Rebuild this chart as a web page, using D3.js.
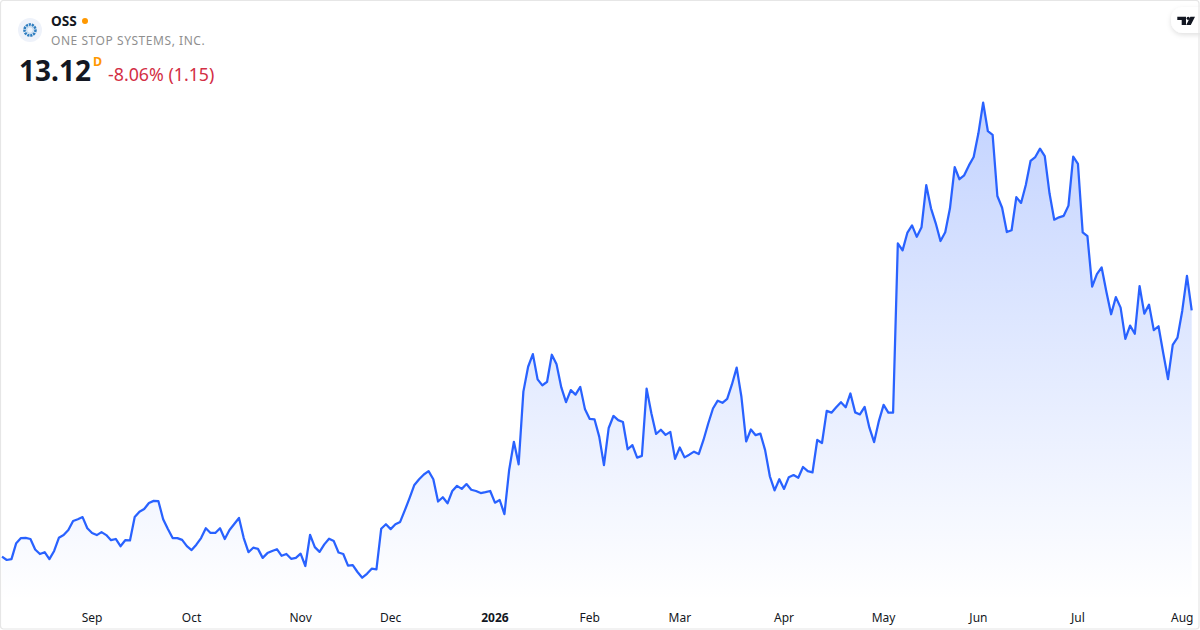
<!DOCTYPE html>
<html>
<head>
<meta charset="utf-8">
<script src="https://cdn.jsdelivr.net/npm/d3@7"></script>
<style>
    html, body { margin: 0; padding: 0; background: #fff; }
    svg { display: block; font-family: "Noto Sans", "Open Sans", sans-serif; }
</style>
</head>
<body>
<div id="chart"></div>
<script>
// daily closes
const closes = [
    4.91, 4.80, 4.83, 5.36, 5.53, 5.54, 5.50, 5.15, 5.00, 5.06, 4.83, 5.10, 5.54, 5.63, 5.80, 6.10, 6.16, 6.23, 5.86, 5.70,
    5.63, 5.73, 5.63, 5.46, 5.50, 5.26, 5.46, 5.45, 6.23, 6.41, 6.50, 6.70, 6.77, 6.76, 6.16, 5.83, 5.53, 5.53, 5.47, 5.26,
    5.13, 5.31, 5.53, 5.86, 5.70, 5.70, 5.86, 5.50, 5.80, 6.00, 6.20, 5.53, 5.06, 5.21, 5.17, 4.87, 5.03, 5.10, 5.16, 4.94,
    5.00, 4.84, 4.87, 5.01, 4.60, 5.64, 5.23, 5.07, 5.32, 5.51, 5.43, 5.05, 5.00, 4.61, 4.63, 4.40, 4.21, 4.34, 4.51, 4.49,
    5.84, 5.99, 5.83, 5.99, 6.07, 6.46, 6.87, 7.30, 7.49, 7.65, 7.76, 7.49, 6.75, 6.89, 6.69, 7.10, 7.27, 7.17, 7.33, 7.14,
    7.10, 7.03, 7.06, 7.10, 6.71, 6.80, 6.33, 7.80, 8.74, 7.99, 10.41, 11.24, 11.66, 10.82, 10.62, 10.74, 11.64, 11.32, 10.55, 10.06,
    10.46, 10.31, 10.57, 9.82, 9.50, 9.49, 8.91, 7.96, 9.20, 9.60, 9.46, 9.40, 8.49, 8.63, 8.21, 8.27, 10.51, 9.69, 9.00, 9.14,
    8.97, 9.07, 8.17, 8.55, 8.22, 8.31, 8.41, 8.33, 8.80, 9.35, 9.85, 10.11, 10.04, 10.17, 10.65, 11.21, 10.24, 8.75, 9.15, 8.96,
    9.01, 8.46, 7.59, 7.12, 7.49, 7.17, 7.56, 7.63, 7.54, 7.90, 7.76, 7.72, 8.80, 8.70, 9.77, 9.71, 9.89, 10.06, 9.89, 10.35,
    9.72, 9.65, 9.90, 9.21, 8.73, 9.43, 9.97, 9.71, 9.71, 15.35, 15.12, 15.70, 15.95, 15.57, 15.89, 17.29, 16.52, 16.02, 15.43, 15.72,
    16.52, 17.89, 17.49, 17.62, 17.95, 18.23, 19.02, 20.04, 19.09, 18.97, 16.93, 16.54, 15.73, 15.79, 16.89, 16.70, 17.30, 18.10, 18.23, 18.51,
    18.26, 17.02, 16.14, 16.22, 16.27, 16.61, 18.24, 18.00, 15.72, 15.59, 13.91, 14.33, 14.55, 13.74, 12.99, 13.56, 13.21, 12.17, 12.61, 12.34,
    13.93, 13.01, 13.31, 12.46, 12.59, 11.69, 10.83, 11.97, 12.21, 13.10, 14.27, 13.12
];
// index of the first session of each month, and its label
const monthIndex = [19, 40, 63, 82, 104, 124, 143, 165, 186, 206, 227, 249];
const monthLabels = ["Sep", "Oct", "Nov", "Dec", "2026", "Feb", "Mar", "Apr", "May", "Jun", "Jul", "Aug"];

const symbol = "OSS";
const company = "ONE STOP SYSTEMS, INC.";
const lastPrice = "13.12";
const interval = "D";
const change = "-8.06% (1.15)";

const width = 1200;
const height = 630;
const lineColor = "#2962ff";

const svg = d3.select("#chart").append("svg")
    .attr("width", width)
    .attr("height", height);

const x = d3.scaleLinear().domain([0, closes.length - 1]).range([2, 1191.7]);
const y = d3.scaleLinear().domain([4.21, 20.04]).range([577.7, 102.7]);

const defs = svg.append("defs");
const grad = defs.append("linearGradient")
    .attr("id", "fill")
    .attr("gradientUnits", "userSpaceOnUse")
    .attr("x1", 0).attr("x2", 0)
    .attr("y1", 102).attr("y2", 600);
grad.append("stop").attr("offset", 0).attr("stop-color", lineColor).attr("stop-opacity", 0.28);
grad.append("stop").attr("offset", 1).attr("stop-color", lineColor).attr("stop-opacity", 0);

const shadow = defs.append("filter").attr("id", "pill").attr("x", "-30%").attr("y", "-30%").attr("width", "160%").attr("height", "180%");
shadow.append("feDropShadow")
    .attr("dx", 0).attr("dy", 2).attr("stdDeviation", 2.5)
    .attr("flood-color", "#000").attr("flood-opacity", 0.12);

// area + line
const area = d3.area().x((d, i) => x(i)).y0(600).y1(d => y(d));
const line = d3.line().x((d, i) => x(i)).y(d => y(d));

svg.append("path").datum(closes)
    .attr("d", area)
    .attr("fill", "url(#fill)");
svg.append("path").datum(closes)
    .attr("d", line)
    .attr("fill", "none")
    .attr("stroke", lineColor)
    .attr("stroke-width", 2.25)
    .attr("stroke-linejoin", "round");

// month axis
const axis = d3.axisBottom(x)
    .tickValues(monthIndex)
    .tickFormat((d, i) => monthLabels[i])
    .tickSize(0)
    .tickPadding(0);
const gAxis = svg.append("g").attr("transform", "translate(-0.5,613)").call(axis);
gAxis.select(".domain").remove();
gAxis.selectAll("text")
    .attr("font-family", "'Noto Sans', sans-serif")
    .attr("font-size", 12)
    .attr("fill", "#131722")
    .attr("font-weight", (d, i) => monthLabels[i] === "2026" ? 700 : 400);

// header
const logo = svg.append("g").attr("transform", "translate(30,30)");
logo.append("circle").attr("r", 12).attr("fill", "#eef2fa");
logo.append("circle").attr("r", 5.5).attr("fill", "none")
    .attr("stroke", "#2f7ec0").attr("stroke-width", 2.6).attr("stroke-dasharray", "2.2 0.8");
logo.append("circle").attr("r", 3.4).attr("fill", "none")
    .attr("stroke", "#9cc4e4").attr("stroke-width", 0.7);

svg.append("text").attr("x", 51).attr("y", 26)
    .attr("font-size", 13.6).attr("font-weight", 700).attr("fill", "#131722")
    .text(symbol);
svg.append("circle").attr("cx", 85).attr("cy", 21).attr("r", 3).attr("fill", "#ff9800");
svg.append("text").attr("x", 51).attr("y", 45)
    .attr("font-size", 12).attr("letter-spacing", 0.55).attr("fill", "#8f8f8f")
    .text(company);
svg.append("text").attr("x", 19).attr("y", 81)
    .attr("font-size", 28).attr("font-weight", 700).attr("fill", "#131722")
    .text(lastPrice);
svg.append("text").attr("x", 93).attr("y", 66)
    .attr("font-size", 12.5).attr("font-weight", 700).attr("fill", "#ff9800")
    .text(interval);
svg.append("text").attr("x", 108).attr("y", 81)
    .attr("font-size", 17.8).attr("fill", "#d32f45")
    .text(change);

// logo pill, top right
svg.append("rect")
    .attr("x", 1171).attr("y", 7).attr("width", 50).attr("height", 26).attr("rx", 12)
    .attr("fill", "#fff").attr("filter", "url(#pill)");
svg.append("path")
    .attr("d", "M1177.3 16.7h8.7v8.3h-4.3v-5h-4.4z M1195 16.7l-4.2 8.3h-4.6l4.2-8.3z")
    .attr("fill", "#131722");
svg.append("circle").attr("cx", 1188.2).attr("cy", 18.3).attr("r", 1.6).attr("fill", "#131722");

// frame
svg.append("rect")
    .attr("x", 0.5).attr("y", 0.5).attr("width", width - 1.5).attr("height", height - 1.5).attr("rx", 3)
    .attr("fill", "none").attr("stroke", "#e6e6e6").attr("stroke-width", 1.2);
</script>
</body>
</html>
